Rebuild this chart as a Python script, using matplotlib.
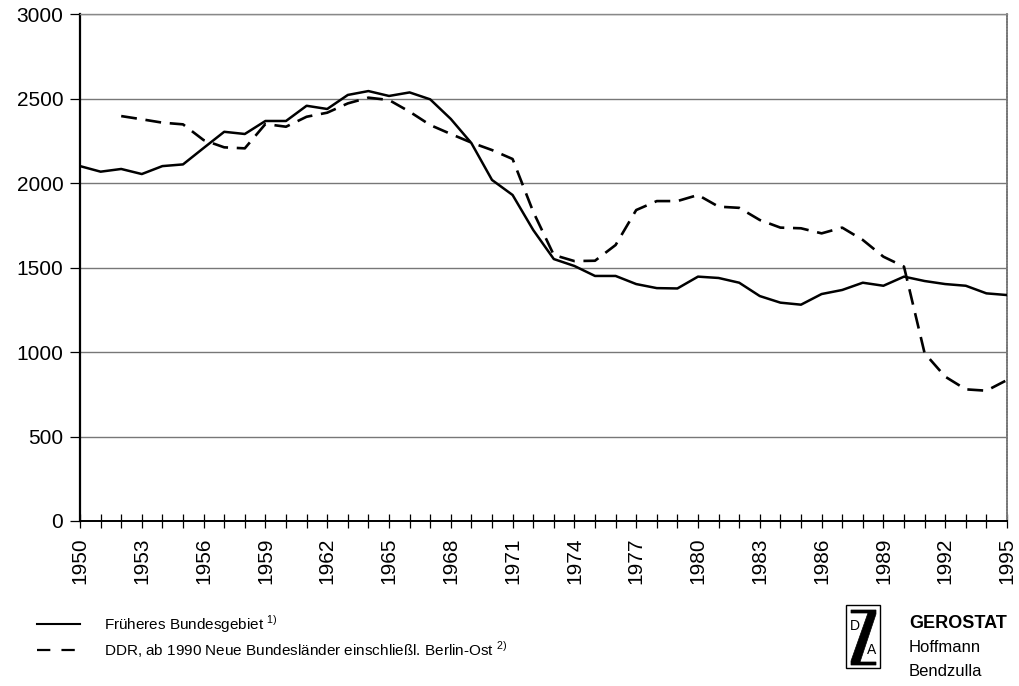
import matplotlib
matplotlib.use("Agg")
import matplotlib.pyplot as plt
from matplotlib.patches import Rectangle, Polygon
from matplotlib.lines import Line2D

plt.rcParams['font.family'] = ['Liberation Sans', 'DejaVu Sans']
plt.rcParams['mathtext.fontset'] = 'custom'
plt.rcParams['mathtext.rm'] = 'Liberation Sans'

years_west = list(range(1950, 1996))
west = [2100, 2067, 2083, 2053, 2100, 2110, 2207, 2303, 2290, 2367,
        2367, 2457, 2438, 2521, 2544, 2515, 2536, 2495, 2379, 2236,
        2018, 1929, 1722, 1550, 1509, 1450, 1450, 1402, 1378, 1376,
        1446, 1438, 1410, 1331, 1292, 1280, 1343, 1367, 1410, 1392,
        1446, 1420, 1402, 1392, 1347, 1337]

years_east = list(range(1952, 1996))
east = [2396, 2377, 2357, 2347, 2254, 2211, 2205, 2349, 2333, 2392,
        2416, 2471, 2505, 2491, 2422, 2343, 2290, 2239, 2195, 2142,
        1830, 1574, 1538, 1540, 1633, 1840, 1893, 1893, 1929, 1860,
        1853, 1781, 1736, 1732, 1702, 1736, 1663, 1564, 1505, 993,
        854, 779, 771, 834]

y_ticks = [0, 500, 1000, 1500, 2000, 2500, 3000]
x_label_years = list(range(1950, 1996, 3))

label_west = "Früheres Bundesgebiet $^{1)}$"
label_east = "DDR, ab 1990 Neue Bundesländer einschließl. Berlin-Ost $^{2)}$"

fig = plt.figure(figsize=(10.19, 6.86), dpi=100)
ax = fig.add_axes([80/1019, 1-521/686, 927/1019, 507/686])

ax.set_xlim(1950, 1995)
ax.set_ylim(0, 3000)

for v in y_ticks[1:]:
    ax.axhline(v, color='#777777', lw=1.0, zorder=1)

ax.plot(years_west, west, color='black', lw=1.8, solid_joinstyle='round', zorder=3)
ax.plot(years_east, east, color='black', lw=1.9, dashes=(6, 3.3), zorder=3)

ax.set_yticks(y_ticks)
ax.set_yticklabels([str(v) for v in y_ticks], fontsize=15)
ax.set_xticks(x_label_years)
ax.set_xticklabels([str(v) for v in x_label_years], rotation=90, fontsize=15)
ax.set_xticks(list(range(1950, 1996)), minor=True)
ax.tick_params(axis='x', which='both', direction='inout', length=10, width=0.9, pad=7)
ax.tick_params(axis='y', which='major', direction='out', length=7, width=0.9, pad=5)

ax.spines['left'].set_linewidth(1.6)
ax.spines['bottom'].set_linewidth(1.4)
ax.spines['top'].set_color('#888888')
ax.spines['top'].set_linewidth(1.0)
ax.spines['right'].set_color('#777777')
ax.spines['right'].set_linewidth(1.3)
ax.spines['right'].set_linestyle((0, (1, 0.6)))

# legend
fig.add_artist(Line2D([37/1019, 80/1019], [1-624/686, 1-624/686], color='black', lw=1.5))
fig.add_artist(Line2D([37/1019, 80/1019], [1-650/686, 1-650/686], color='black', lw=1.6,
                      dashes=(6, 5)))
fig.text(104/1019, 1-624/686, label_west, fontsize=11, va='center', ha='left')
fig.text(104/1019, 1-650/686, label_east, fontsize=11, va='center', ha='left')

# logo
bx0, by0, bw, bh = 846, 605, 34, 63
fig.add_artist(Rectangle((bx0/1019, 1-(by0+bh)/686), bw/1019, bh/686,
                         transform=fig.transFigure, fill=False, ec='black', lw=1.0))
zpts = [(851, 610), (876, 610), (876, 614), (860, 662), (876, 662), (876, 665),
        (851, 665), (851, 661), (868, 613), (851, 613)]
fig.add_artist(Polygon([(x/1019, 1-y/686) for x, y in zpts], closed=True,
                       transform=fig.transFigure, fc='black', ec='black', lw=0.5))
fig.text(855/1019, 1-626/686, "D", fontsize=10, ha='center', va='center')
fig.text(872/1019, 1-650/686, "A", fontsize=10, ha='center', va='center')

fig.text(909/1019, 1-623/686, "GEROSTAT", fontsize=13, fontweight='bold', ha='left', va='center')
fig.text(909/1019, 1-647/686, "Hoffmann", fontsize=12,
         family=['Liberation Sans Narrow', 'Liberation Sans'], ha='left', va='center')
fig.text(909/1019, 1-671/686, "Bendzulla", fontsize=12,
         family=['Liberation Sans Narrow', 'Liberation Sans'], ha='left', va='center')

fig.savefig("out.png", dpi=100, facecolor='white')
